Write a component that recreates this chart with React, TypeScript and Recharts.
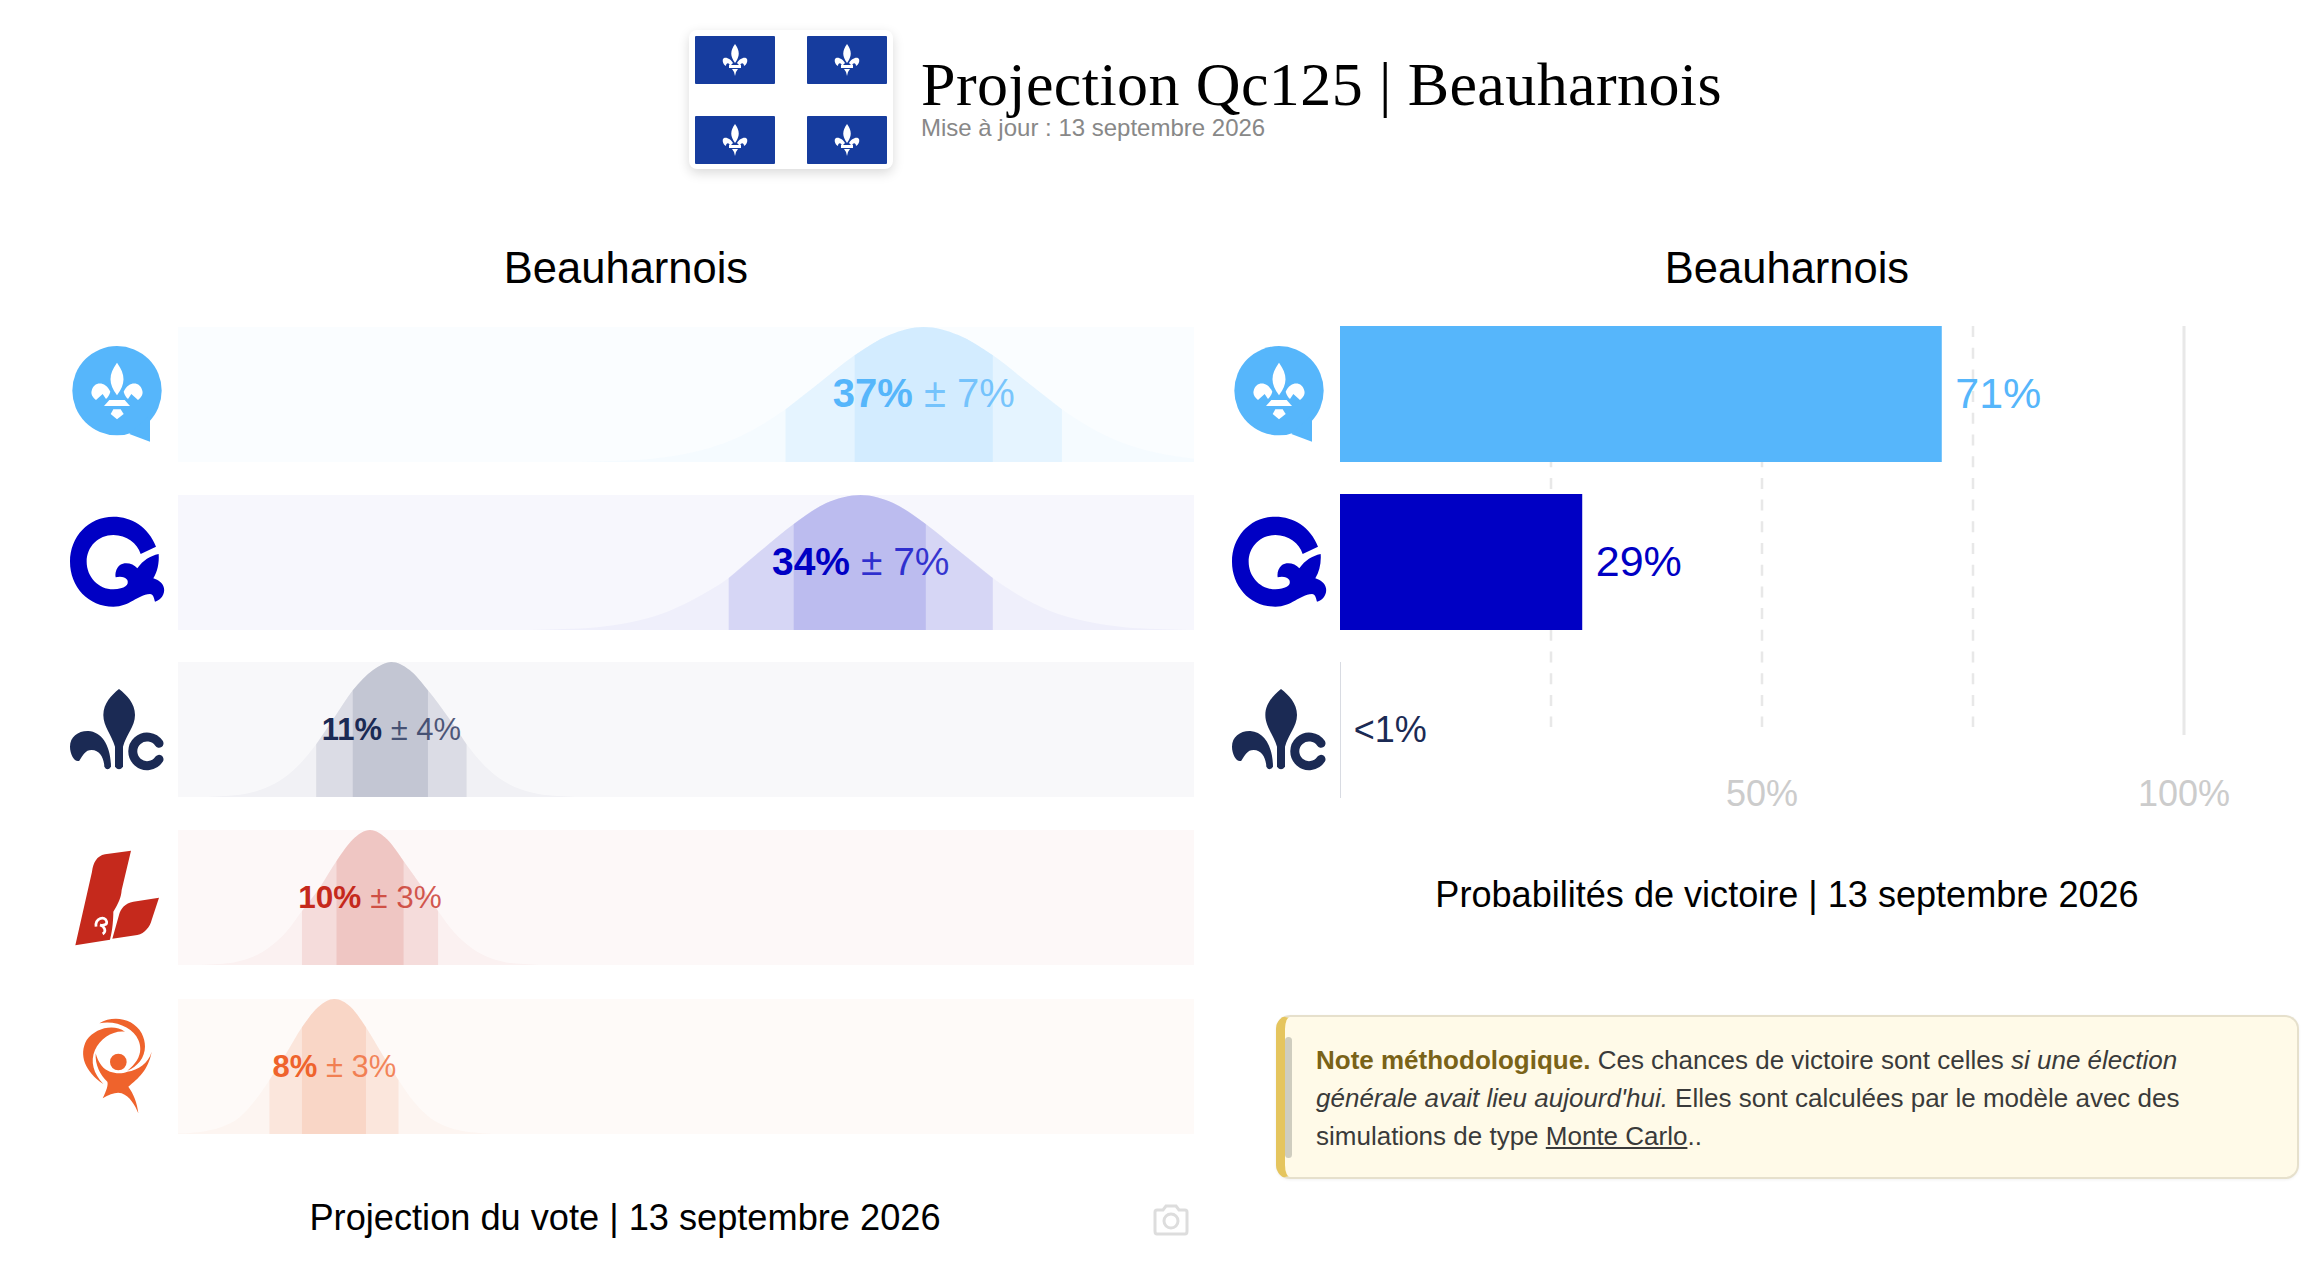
import React from 'react'
import {
  Area,
  Bar,
  BarChart,
  Cell,
  ComposedChart,
  LabelList,
  ReferenceArea,
  ReferenceDot,
  ReferenceLine,
  XAxis,
  YAxis,
} from 'recharts'

const SANS = '"Liberation Sans", Arial, sans-serif'

const partyNames = ['CAQ', 'PQ', 'PCQ', 'PLQ', 'QS']
const partyColors = ['#56B6FB', '#0000C4', '#1B2A54', '#C5291C', '#EF632C']

const voteMeans = [36.7, 33.6, 10.5, 9.45, 7.7]
const voteLabels = ['37%', '34%', '11%', '10%', '8%']
const voteMargins = ['± 7%', '± 7%', '± 4%', '± 3%', '± 3%']
const voteOuterLow = [29.9, 27.1, 6.8, 6.1, 4.5]
const voteOuterHigh = [43.5, 40.1, 14.2, 12.8, 10.85]
const voteInnerLow = [33.3, 30.3, 8.6, 7.8, 6.1]
const voteInnerHigh = [40.1, 36.8, 12.3, 11.1, 9.25]
const voteFontSizes = [40, 39, 31, 31.5, 31]

const caqX = [19.7, 21.4, 23.1, 24.8, 26.5, 28.2, 29.9, 31.6, 33.3, 35, 36.7, 38.4, 40.1, 41.8, 43.5, 45.2, 46.9, 48.6, 50]
const caqH = [0, 0.007, 0.02, 0.055, 0.12, 0.23, 0.39, 0.59, 0.79, 0.94, 1, 0.94, 0.79, 0.59, 0.39, 0.23, 0.12, 0.055, 0.025]
const pqX = [17.3, 18.9, 20.6, 22.2, 23.8, 25.4, 27.1, 28.7, 30.3, 31.9, 33.6, 35.2, 36.8, 38.4, 40.1, 41.7, 43.3, 45, 46.6, 48.2, 49.8]
const pqH = [0, 0.007, 0.02, 0.055, 0.12, 0.23, 0.385, 0.59, 0.785, 0.94, 1, 0.94, 0.785, 0.59, 0.385, 0.23, 0.12, 0.055, 0.02, 0.007, 0]
const pcqX = [1.4, 2.3, 3.2, 4.1, 5, 5.9, 6.8, 7.7, 8.6, 9.6, 10.5, 11.4, 12.3, 13.3, 14.2, 15.1, 16, 16.9, 17.8, 18.7, 19.6]
const pcqH = [0, 0.007, 0.02, 0.055, 0.12, 0.23, 0.39, 0.59, 0.79, 0.94, 1, 0.94, 0.79, 0.59, 0.39, 0.23, 0.12, 0.055, 0.02, 0.007, 0]
const plqX = [1.1, 2, 2.8, 3.6, 4.4, 5.3, 6.1, 7, 7.8, 8.6, 9.45, 10.3, 11.1, 12, 12.8, 13.6, 14.5, 15.3, 16.1, 17, 17.8]
const plqH = [0, 0.007, 0.02, 0.055, 0.12, 0.24, 0.4, 0.58, 0.77, 0.93, 1, 0.93, 0.77, 0.58, 0.4, 0.24, 0.12, 0.055, 0.02, 0.007, 0]
const qsX = [0, 0.6, 1.4, 2.2, 3, 3.75, 4.5, 5.3, 6.1, 6.9, 7.7, 8.5, 9.25, 10.05, 10.85, 11.6, 12.4, 13.2, 14, 14.8, 15.5]
const qsH = [0.003, 0.008, 0.022, 0.055, 0.12, 0.24, 0.4, 0.59, 0.79, 0.94, 1, 0.94, 0.79, 0.59, 0.4, 0.24, 0.12, 0.055, 0.022, 0.008, 0]

const voteXs = [caqX, pqX, pcqX, plqX, qsX]
const voteHs = [caqH, pqH, pcqH, plqH, qsH]

const winParties = ['CAQ', 'PQ', 'PCQ']
const winValues = [71.3, 28.7, 0.02]
const winLabels = ['71%', '29%', '<1%']
const winGrid = [25, 50, 75]
const winTicks = [50, 100]

const rowTops = [327, 495, 662, 830, 999]
const BAND_W = 1016
const BAND_H = 135

function buildRows(p: number) {
  return voteXs[p].map((x, i) => ({
    x,
    tail: voteHs[p][i],
    outer: x >= voteOuterLow[p] && x <= voteOuterHigh[p] ? voteHs[p][i] : null,
    inner: x >= voteInnerLow[p] && x <= voteInnerHigh[p] ? voteHs[p][i] : null,
  }))
}

function VoteLabel({ cx, cy, p }: any) {
  return (
    <text
      x={cx}
      y={cy + (p < 2 ? 12 : 10)}
      textAnchor="middle"
      fontFamily={SANS}
      fontSize={voteFontSizes[p]}
      fill={partyColors[p]}
    >
      <tspan fontWeight="bold">{voteLabels[p]}</tspan>
      <tspan fillOpacity={0.75}> {voteMargins[p]}</tspan>
    </text>
  )
}

function VoteRow({ p }: { p: number }) {
  const color = partyColors[p]
  return (
    <div style={{ position: 'absolute', left: 178, top: rowTops[p] }}>
      <ComposedChart
        width={BAND_W}
        height={BAND_H}
        data={buildRows(p)}
        margin={{ top: 0, right: 0, bottom: 0, left: 0 }}
      >
        <XAxis type="number" dataKey="x" domain={[0, 50]} hide />
        <YAxis type="number" domain={[0, 1]} hide />
        <ReferenceArea x1={0} x2={50} y1={0} y2={1} fill={color} fillOpacity={0.03} stroke="none" />
        <Area dataKey="tail" type="monotone" stroke="none" fill={color} fillOpacity={0.03} isAnimationActive={false} dot={false} activeDot={false} />
        <Area dataKey="outer" type="monotone" stroke="none" fill={color} fillOpacity={0.1} isAnimationActive={false} dot={false} activeDot={false} />
        <Area dataKey="inner" type="monotone" stroke="none" fill={color} fillOpacity={0.12} isAnimationActive={false} dot={false} activeDot={false} />
        <ReferenceDot
          x={voteMeans[p]}
          y={0.5}
          r={1}
          shape={(props: any) => <VoteLabel cx={props.cx} cy={props.cy} p={p} />}
        />
      </ComposedChart>
    </div>
  )
}

function GridLine(props: any, solid: boolean) {
  return (
    <line
      x1={props.x1}
      x2={props.x1}
      y1={16}
      y2={solid ? 425 : 417}
      stroke="#E8E8E8"
      strokeWidth={solid ? 3 : 2.5}
      strokeDasharray={solid ? undefined : '11 10.7'}
    />
  )
}

function WinTick({ x, payload }: any) {
  return (
    <text x={x} y={496} textAnchor="middle" fontFamily={SANS} fontSize={36} fill="#CCCCCC">
      {payload.value}%
    </text>
  )
}

function WinLabel({ x, y, width, height, index }: any) {
  return (
    <text
      x={x + width + 13.5}
      y={y + height / 2 + (index === 2 ? 12 : 14)}
      fontFamily={SANS}
      fontSize={index === 2 ? 36 : 43}
      fill={partyColors[index]}
    >
      {winLabels[index]}
    </text>
  )
}

function WinChart() {
  const data = winParties.map((name, i) => ({ name, value: winValues[i] }))
  const margin = { top: 0, right: 56, bottom: 0, left: 0 }
  return (
    <>
      {/* gridlines sit in their own chart, behind the bars */}
      <div style={{ position: 'absolute', left: 1340, top: 310 }}>
        <BarChart layout="vertical" width={900} height={505} data={data} margin={margin}>
          <XAxis
            type="number"
            domain={[0, 100]}
            height={1}
            axisLine={false}
            tickLine={false}
            ticks={winTicks}
            interval={0}
            tick={<WinTick />}
          />
          <YAxis type="category" dataKey="name" hide />
          <Bar dataKey="value" barSize={136} fill="none" isAnimationActive={false} />
          {winGrid.map((g) => (
            <ReferenceLine key={g} x={g} shape={(p: any) => GridLine(p, false)} />
          ))}
          <ReferenceLine x={100} shape={(p: any) => GridLine(p, true)} />
        </BarChart>
      </div>
      <div style={{ position: 'absolute', left: 1340, top: 310 }}>
        <BarChart layout="vertical" width={900} height={505} data={data} margin={margin}>
          <XAxis type="number" domain={[0, 100]} height={1} axisLine={false} tickLine={false} tick={false} />
          <YAxis type="category" dataKey="name" hide />
          <Bar dataKey="value" barSize={136} isAnimationActive={false}>
            {data.map((d, i) => (
              <Cell key={d.name} fill={partyColors[i]} />
            ))}
            <LabelList dataKey="value" content={<WinLabel />} />
          </Bar>
        </BarChart>
      </div>
    </>
  )
}

function Centered({ cx, cy, size, children }: any) {
  return (
    <div
      style={{
        position: 'absolute',
        left: cx - 600,
        top: cy - 50,
        width: 1200,
        height: 100,
        lineHeight: '100px',
        textAlign: 'center',
        fontFamily: SANS,
        fontSize: size,
        color: '#000',
        whiteSpace: 'nowrap',
      }}
    >
      {children}
    </div>
  )
}

function Fleur({ x, y }: { x: number; y: number }) {
  return (
    <g transform={`translate(${x} ${y})`} fill="#fff">
      <path d="M0 -16 C-5 -9 -5 -4 0 3 C5 -4 5 -9 0 -16Z" />
      <path d="M-2 3 C-4 -1 -10 -4 -12 -1 C-13 2 -11 5 -9 6 C-9 3 -6 2 -5 6Z" />
      <path d="M2 3 C4 -1 10 -4 12 -1 C13 2 11 5 9 6 C9 3 6 2 5 6Z" />
      <rect x={-6} y={5} width={12} height={3} />
      <path d="M-3 9 L3 9 L1 12 L0 16 L-1 12Z" />
    </g>
  )
}

function Flag() {
  const blocks: [number, number][] = [
    [6, 6],
    [118, 6],
    [6, 86],
    [118, 86],
  ]
  return (
    <svg
      width={204}
      height={139}
      style={{
        position: 'absolute',
        left: 689,
        top: 30,
        borderRadius: 8,
        boxShadow: '0 4px 12px rgba(0,0,0,0.15)',
        background: '#fff',
      }}
    >
      {blocks.map(([x, y]) => (
        <g key={`${x}-${y}`}>
          <rect x={x} y={y} width={80} height={48} rx={1} fill="#163C9E" />
          <Fleur x={x + 40} y={y + 24} />
        </g>
      ))}
    </svg>
  )
}

function LogoCaq() {
  return (
    <g>
      <circle cx={201} cy={212} r={134} fill="#56B6FB" />
      <path d="M300 285 L300 365 L238 342Z" fill="#56B6FB" />
      <g fill="#fff">
        <path d="M201 128 C175 165 175 190 201 226 C227 190 227 165 201 128Z" />
        <path d="M125 212 C130 185 165 180 181 215 C178 225 175 230 168 237 L158 222 L138 240 C128 232 122 222 125 212Z" />
        <path d="M277 212 C272 185 237 180 221 215 C224 225 227 230 234 237 L244 222 L264 240 C274 232 280 222 277 212Z" />
        <path d="M178 240 L224 240 L240 258 L162 258Z" />
        <path d="M201 298 L182 282 L190 268 L212 268 L221 282Z" />
      </g>
    </g>
  )
}

function LogoPq() {
  return (
    <path
      transform="translate(0 -510)"
      fill="#0000C4"
      d="M318 680 C295 620 245 590 190 590 C115 590 60 650 60 725 C60 800 115 860 190 860 C240 860 260 825 300 822 C310 822 312 835 315 845 C335 840 345 820 342 805 C340 790 325 780 310 775 C322 755 328 730 326 702 C300 708 280 720 262 745 C250 730 225 725 210 735 C198 745 195 760 197 772 C210 768 225 770 232 780 C238 795 225 806 190 808 C145 808 110 770 110 725 C110 680 145 645 190 645 C230 645 262 670 272 702Z"
    />
  )
}

function LogoPcq() {
  return (
    <g fill="#1B2A54">
      <path d="M207 57 C185 75 160 100 160 135 C160 170 185 195 195 230 L195 290 Q207 305 219 290 L219 230 C228 195 255 170 255 135 C255 100 230 75 207 57Z" />
      <path d="M60 230 C60 200 85 182 115 183 C155 186 182 225 183 290 Q172 305 163 290 C162 265 150 240 125 240 C105 240 100 255 88 272 C75 278 60 255 60 230Z" />
      <path d="M327 220 A43 43 0 1 0 327 268" fill="none" stroke="#1B2A54" strokeWidth={27} strokeLinecap="round" />
    </g>
  )
}

function LogoPlq() {
  return (
    <g transform="translate(0 -510)">
      <path fill="#C5291C" d="M243 542 L165 553 C140 558 130 578 126 605 L76 826 L180 809 C188 780 190 745 190 725 C205 700 213 685 215 660Z" />
      <path fill="#C5291C" d="M327 683 L250 695 C225 700 212 715 207 735 L187 806 L262 795 C285 790 300 770 305 750Z" />
      <path fill="none" stroke="#fff" strokeWidth={8} d="M138 770 C135 745 165 735 170 755 C172 765 158 767 150 765 C165 770 170 785 158 792" />
    </g>
  )
}

function LogoQs() {
  return (
    <g fill="#EF632C">
      <circle cx={205} cy={216} r={25} />
      <path d="M137 190 C135 225 150 255 172 275 C175 285 170 300 158 325 C180 312 200 305 215 310 C240 320 255 345 265 370 C262 340 250 310 235 290 C265 265 295 240 305 185 C295 220 265 240 232 245 C215 252 195 250 180 245 C160 238 145 220 137 190Z" />
      <path d="M148 100 C190 75 250 85 275 130 C300 180 275 225 232 242 C265 215 280 185 265 150 C250 115 200 90 148 100Z" />
      <path d="M225 125 C190 100 135 115 110 150 C85 195 105 245 160 282 C130 250 120 215 135 180 C150 145 190 120 225 125Z" />
    </g>
  )
}

// logos drawn in a 3x box, one box per row
const logoTops = [320, 490, 670, 840, 990]
const logoComponents = [LogoCaq, LogoPq, LogoPcq, LogoPlq, LogoQs]

function Logo({ p, shift }: { p: number; shift: number }) {
  const Shape = logoComponents[p]
  return (
    <svg
      width={130}
      height={150}
      viewBox="0 0 390 450"
      style={{ position: 'absolute', left: 50 + shift, top: logoTops[p] }}
    >
      <Shape />
    </svg>
  )
}

function Camera() {
  return (
    <svg width={38} height={32} style={{ position: 'absolute', left: 1152, top: 1204 }} fill="none" stroke="#DDDDDD" strokeWidth={3}>
      <path d="M3 8 Q3 6 5 6 L11 6 L14 2 L24 2 L27 6 L33 6 Q35 6 35 8 L35 27 Q35 30 33 30 L5 30 Q3 30 3 27Z" />
      <circle cx={19} cy={17} r={7} />
    </svg>
  )
}

function Note() {
  const line: React.CSSProperties = { height: 38, lineHeight: '38px', whiteSpace: 'nowrap' }
  return (
    <div
      style={{
        position: 'absolute',
        left: 1276,
        top: 1015,
        width: 1023,
        height: 164,
        boxSizing: 'border-box',
        background: '#FFFAE8',
        border: '2px solid #E6E0CC',
        borderLeft: '9px solid #E5C55E',
        borderRadius: 14,
        boxShadow: '0 1px 3px rgba(0,0,0,0.06)',
        fontFamily: SANS,
        fontSize: 26,
        color: '#3A3A3A',
      }}
    >
      <div style={{ position: 'absolute', left: 0, top: 20, width: 7, height: 121, background: '#CFCDBF', borderRadius: 4 }} />
      <div style={{ position: 'absolute', left: 31, top: 24 }}>
        <div style={line}>
          <b style={{ color: '#7A6318' }}>Note méthodologique.</b> Ces chances de victoire sont celles <i>si une élection</i>
        </div>
        <div style={line}>
          <i>générale avait lieu aujourd'hui.</i> Elles sont calculées par le modèle avec des
        </div>
        <div style={line}>
          simulations de type <span style={{ textDecoration: 'underline' }}>Monte Carlo</span>..
        </div>
      </div>
    </div>
  )
}

export default function App() {
  return (
    <div style={{ position: 'absolute', left: 0, top: 0, width: 2314, height: 1286, background: '#fff', overflow: 'hidden' }}>
      <Flag />
      <div
        style={{
          position: 'absolute',
          left: 921,
          top: 48,
          fontFamily: '"Liberation Serif", serif',
          fontSize: 62,
          lineHeight: '72px',
          letterSpacing: 0.4,
          color: '#000',
          whiteSpace: 'nowrap',
        }}
      >
        Projection Qc125 | Beauharnois
      </div>
      <div
        style={{
          position: 'absolute',
          left: 921,
          top: 112,
          fontFamily: SANS,
          fontSize: 24,
          lineHeight: '32px',
          color: '#888888',
          whiteSpace: 'nowrap',
        }}
      >
        Mise à jour : 13 septembre 2026
      </div>

      <Centered cx={626} cy={268} size={43.5}>Beauharnois</Centered>
      <Centered cx={1787} cy={268} size={43.5}>Beauharnois</Centered>

      {partyNames.map((name, p) => (
        <React.Fragment key={name}>
          <Logo p={p} shift={0} />
          <VoteRow p={p} />
        </React.Fragment>
      ))}
      {winParties.map((name, p) => (
        <Logo key={name} p={p} shift={1162} />
      ))}
      <WinChart />

      <Centered cx={625} cy={1218} size={36.2}>Projection du vote | 13 septembre 2026</Centered>
      <Centered cx={1787} cy={895} size={36.1}>Probabilités de victoire | 13 septembre 2026</Centered>
      <Camera />
      <Note />
    </div>
  )
}
